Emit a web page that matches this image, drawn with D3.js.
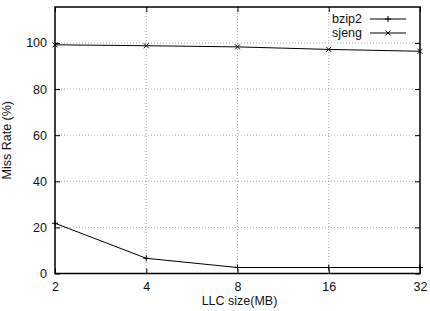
<!DOCTYPE html>
<html>
<head>
<meta charset="utf-8">
<script src="https://cdn.jsdelivr.net/npm/d3@7"></script>
<style>
  body { margin: 0; background: #fff; }
  text { font-family: "Liberation Sans", Arial, sans-serif; font-size: 12.5px; fill: #111; }
</style>
</head>
<body>
<svg id="chart" width="430" height="311"></svg>
<script>
// values
var sizes = [2, 4, 8, 16, 32];
var bzip2 = [21.8, 6.6, 2.6, 2.6, 2.6];
var sjeng = [99.2, 98.8, 98.3, 97.2, 96.4];
var yTicks = [0, 20, 40, 60, 80, 100];
var seriesNames = ['bzip2', 'sjeng'];

var svg = d3.select('#chart');
// plot box (window.top is reserved, so prefixed names)
var pLeft = 55, pRight = 420, pTop = 7, pBottom = 273.5;

var x = d3.scaleLog().base(2).domain([2, 32]).range([pLeft, pRight]);
var y = d3.scaleLinear().domain([0, 115.6]).range([pBottom, pTop]);

// grid
var grid = svg.append('g').attr('stroke', '#999').attr('stroke-dasharray', '1,2').attr('stroke-width', 0.8);
grid.selectAll('.gy').data(yTicks.slice(1)).enter().append('line')
    .attr('x1', pLeft).attr('x2', pRight)
    .attr('y1', function(d) { return y(d); }).attr('y2', function(d) { return y(d); });
grid.selectAll('.gx').data(sizes.slice(1, -1)).enter().append('line')
    .attr('y1', pTop).attr('y2', pBottom)
    .attr('x1', function(d) { return x(d); }).attr('x2', function(d) { return x(d); });

// axes with inward ticks, mirrored
var yAxis = d3.axisLeft(y).tickValues(yTicks).tickSize(-5).tickPadding(8);
var xAxis = d3.axisBottom(x).tickValues(sizes).tickFormat(d3.format('d')).tickSize(-5).tickPadding(9);

svg.append('g').attr('transform', 'translate(' + pLeft + ',0)').call(yAxis);
svg.append('g').attr('transform', 'translate(0,' + pBottom + ')').call(xAxis);
svg.append('g').attr('transform', 'translate(' + pRight + ',0)')
    .call(d3.axisRight(y).tickValues(yTicks).tickSize(-5).tickFormat(''));
svg.append('g').attr('transform', 'translate(0,' + pTop + ')')
    .call(d3.axisTop(x).tickValues(sizes).tickSize(-5).tickFormat(''));

svg.selectAll('.domain').remove();
svg.selectAll('.tick line').attr('stroke', '#000').attr('stroke-width', 1);
svg.selectAll('.tick text').style('font-size', '12.5px').attr('font-family', null);

svg.append('rect').attr('x', pLeft).attr('y', pTop)
    .attr('width', pRight - pLeft).attr('height', pBottom - pTop)
    .attr('fill', 'none').attr('stroke', '#000').attr('stroke-width', 1.5);

// lines
var line = d3.line()
    .x(function(d, i) { return x(sizes[i]); })
    .y(function(d) { return y(d); });

function plus(g, cx, cy) {
    g.append('path').attr('d', 'M' + (cx - 3) + ',' + cy + 'H' + (cx + 3) + 'M' + cx + ',' + (cy - 3) + 'V' + (cy + 3))
        .attr('stroke', '#000').attr('stroke-width', 1);
}
function cross(g, cx, cy) {
    g.append('path').attr('d', 'M' + (cx - 2.5) + ',' + (cy - 2.5) + 'L' + (cx + 2.5) + ',' + (cy + 2.5) +
        'M' + (cx - 2.5) + ',' + (cy + 2.5) + 'L' + (cx + 2.5) + ',' + (cy - 2.5))
        .attr('stroke', '#000').attr('stroke-width', 1);
}

var plot = svg.append('g');
[bzip2, sjeng].forEach(function(vals, k) {
    plot.append('path').datum(vals).attr('d', line)
        .attr('fill', 'none').attr('stroke', '#000').attr('stroke-width', 1);
    vals.forEach(function(v, i) {
        (k === 0 ? plus : cross)(plot, x(sizes[i]), y(v));
    });
});

// legend
var legend = svg.append('g');
seriesNames.forEach(function(name, k) {
    var ly = 19 + k * 14;
    legend.append('text').attr('x', 362).attr('y', ly).attr('dy', '0.35em')
        .attr('text-anchor', 'end').text(name);
    legend.append('line').attr('x1', 370).attr('x2', 406).attr('y1', ly).attr('y2', ly)
        .attr('stroke', '#000').attr('stroke-width', 1);
    (k === 0 ? plus : cross)(legend, 388, ly);
});

// axis labels
svg.append('text').attr('x', (pLeft + pRight) / 2 + 2).attr('y', 305)
    .attr('text-anchor', 'middle').text('LLC size(MB)');
svg.append('text').attr('transform', 'translate(11,' + ((pTop + pBottom) / 2) + ') rotate(-90)')
    .attr('text-anchor', 'middle').text('Miss Rate (%)');
</script>
</body>
</html>
